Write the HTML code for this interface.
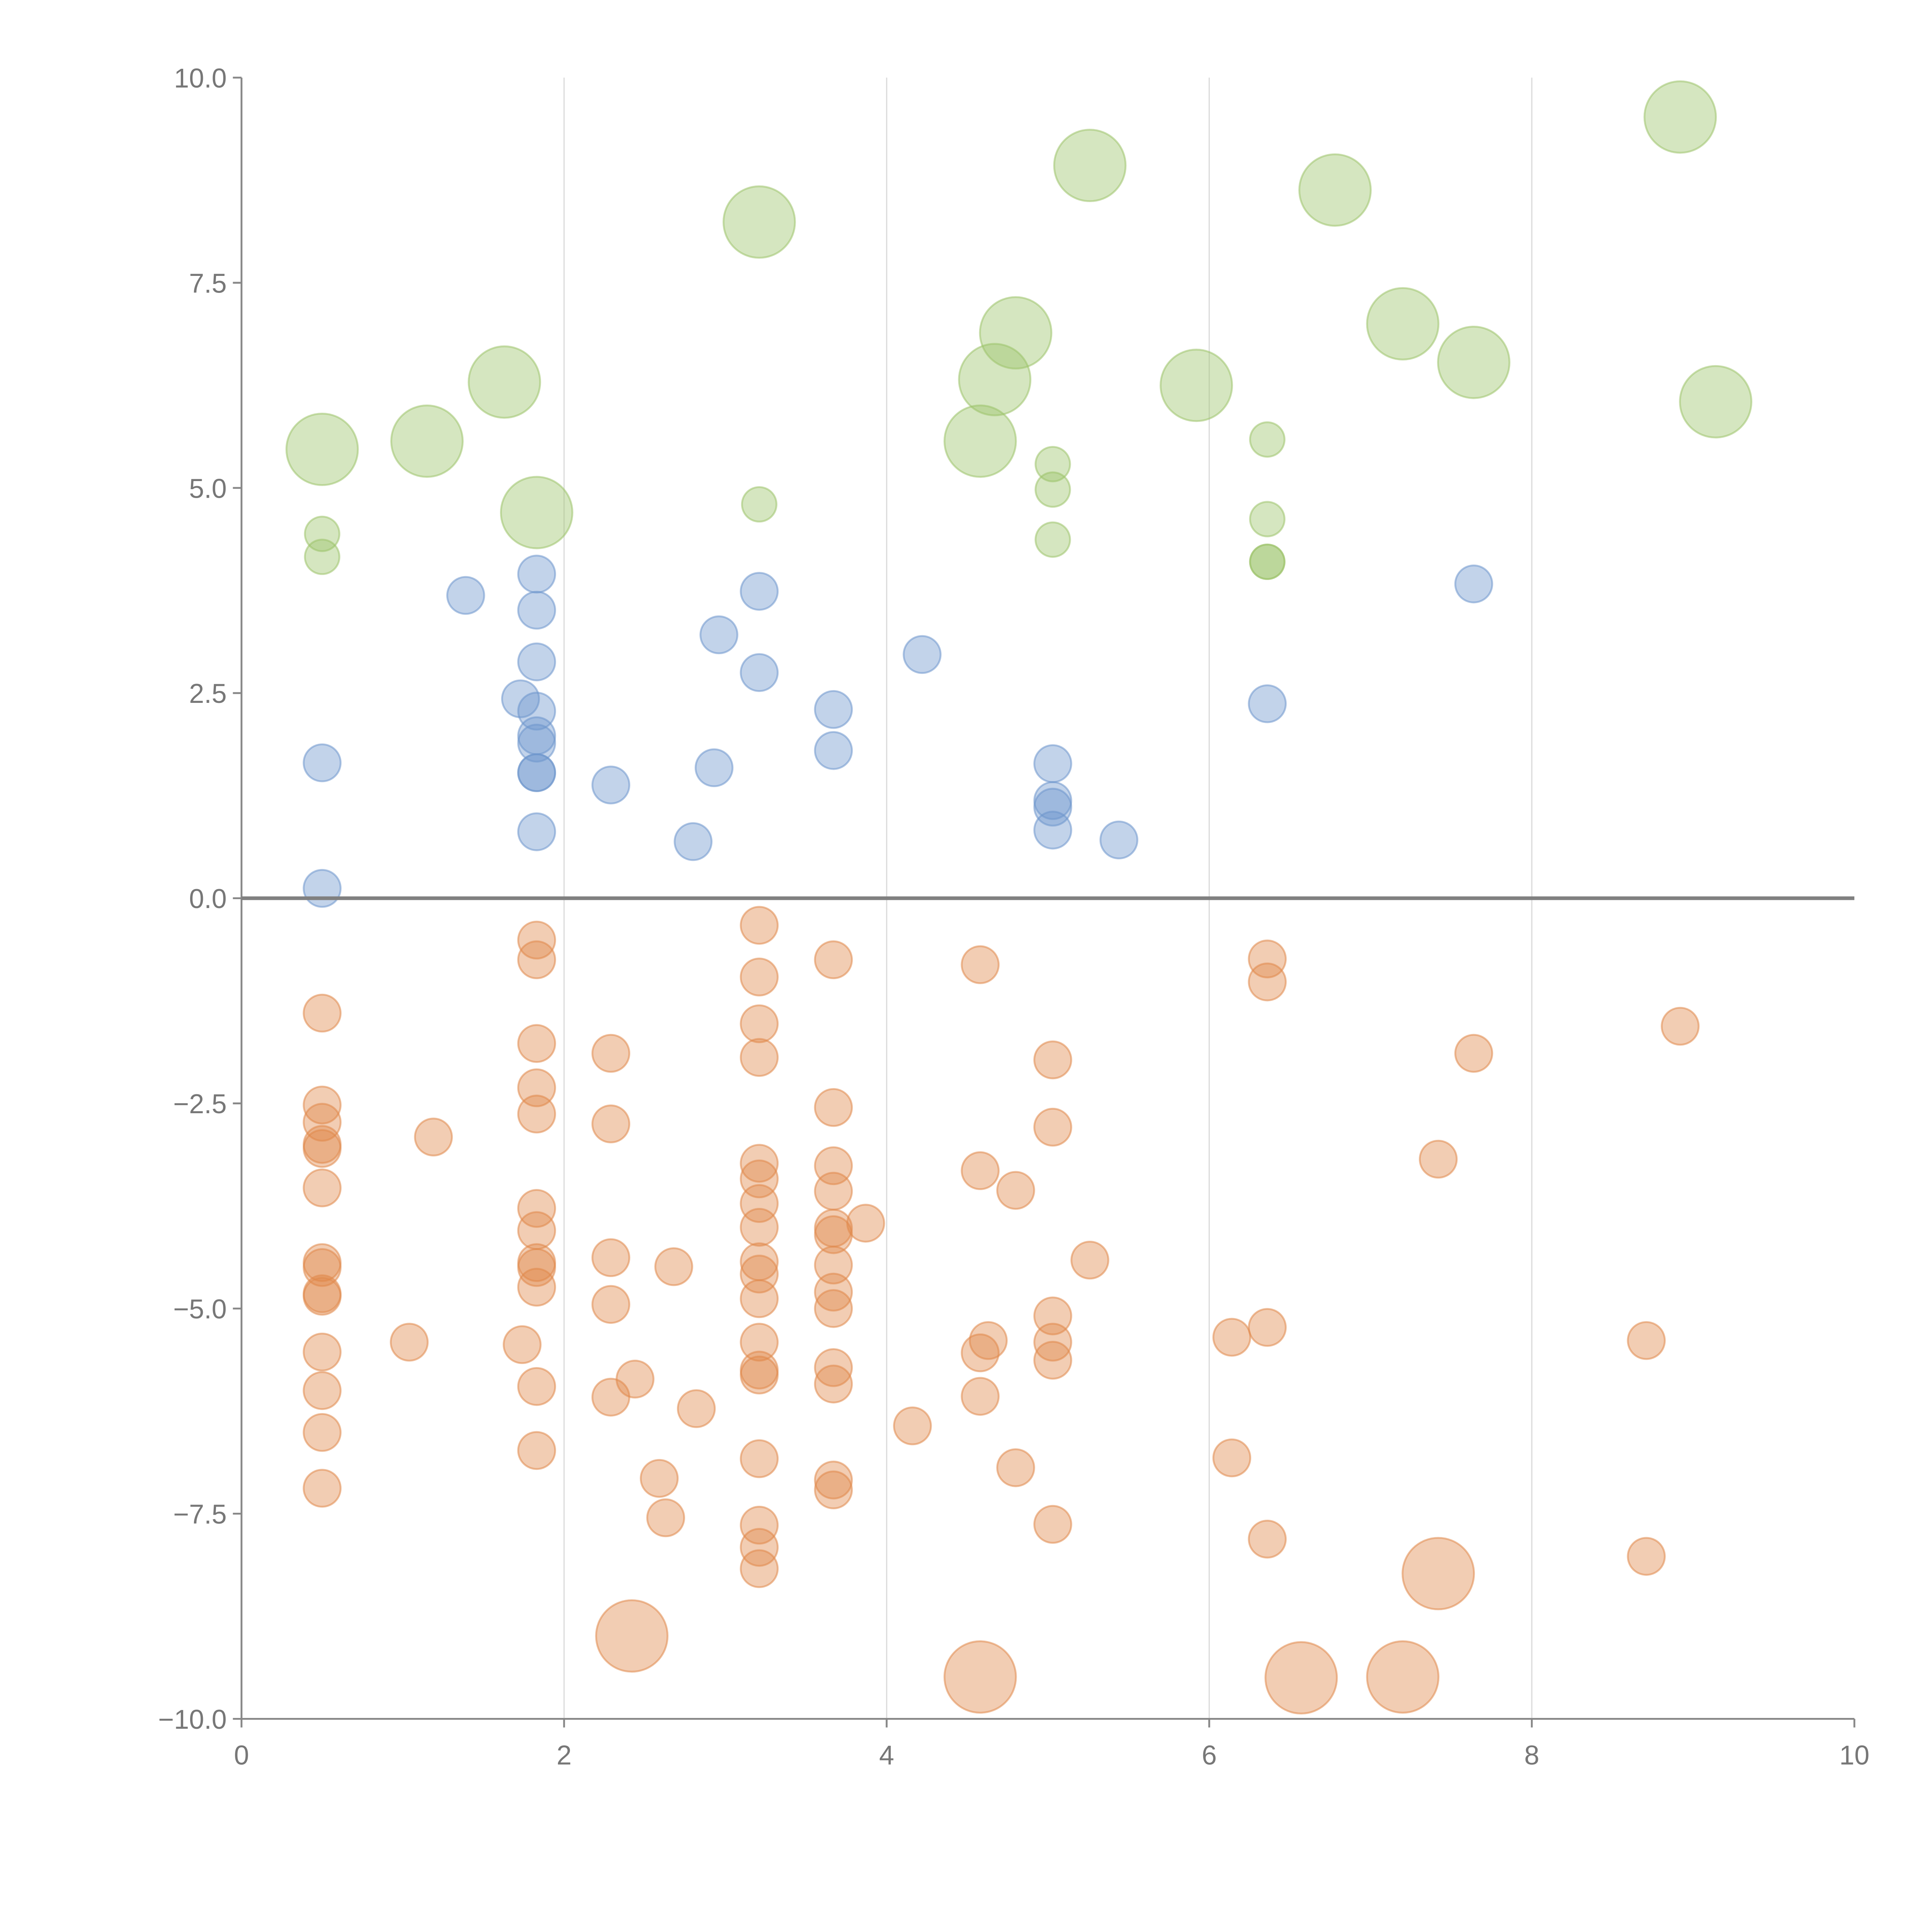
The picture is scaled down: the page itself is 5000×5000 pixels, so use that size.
<!DOCTYPE html>
<html><head><meta charset="utf-8"><style>html,body{margin:0;padding:0;background:#fff}svg{display:block}</style></head>
<body>
<svg id="chart" width="5000" height="5000" viewBox="0 0 1568 1568" xmlns="http://www.w3.org/2000/svg" font-family="Liberation Sans, sans-serif">
<g id="grid"></g>
<g id="marks"></g>
<g id="axes"></g>
</svg>
<script>
const xTicks = [0, 2, 4, 6, 8, 10];
const yTicks = [-10, -7.5, -5, -2.5, 0, 2.5, 5, 7.5, 10];
const yTickLabels = ["\u221210.0", "\u22127.5", "\u22125.0", "\u22122.5", "0.0", "2.5", "5.0", "7.5", "10.0"];
const greenLargeX = [0.5,1.15,1.63,1.83,3.21,4.58,4.67,4.8,5.26,5.92,6.78,7.2,7.64,8.92,9.14];
const greenLargeY = [5.47,5.57,6.29,4.7,8.24,5.57,6.32,6.89,8.93,6.25,8.63,7.0,6.53,9.52,6.05];
const greenSmallX = [0.5,0.5,3.21,5.03,5.03,5.03,6.36,6.36,6.36,6.36];
const greenSmallY = [4.44,4.16,4.8,5.29,4.98,4.37,5.59,4.62,4.1,4.1];
const blueX = [0.5,0.5,1.39,1.83,1.83,1.83,1.73,1.83,1.83,1.83,1.83,1.83,1.83,2.29,2.8,2.93,2.96,3.21,3.21,3.67,3.67,4.22,5.03,5.03,5.03,5.03,5.44,6.36,7.64];
const blueY = [1.65,0.12,3.69,3.95,3.51,2.88,2.43,2.28,1.98,1.89,1.53,1.53,0.81,1.38,0.69,1.59,3.21,3.74,2.75,2.3,1.8,2.97,1.64,1.19,1.11,0.83,0.71,2.37,3.83];
const orangeLargeX = [2.42,4.58,6.57,7.2,7.42];
const orangeLargeY = [-8.99,-9.49,-9.5,-9.49,-8.23];
const orangeX = [0.5,0.5,0.5,0.5,0.5,0.5,0.5,0.5,0.5,0.5,0.5,0.5,0.5,0.5,
 1.04,1.19,1.74,
 1.83,1.83,1.83,1.83,1.83,1.83,1.83,1.83,1.83,1.83,1.83,1.83,
 2.29,2.29,2.29,2.29,2.29,2.44,2.59,2.63,2.68,2.82,
 3.21,3.21,3.21,3.21,3.21,3.21,3.21,3.21,3.21,3.21,3.21,3.21,3.21,3.21,3.21,3.21,3.21,3.21,
 3.67,3.67,3.67,3.67,3.67,3.67,3.67,3.67,3.67,3.67,3.67,3.67,3.67,
 3.87,4.16,4.58,4.58,4.58,4.58,4.63,4.8,4.8,
 5.03,5.03,5.03,5.03,5.03,5.03,5.26,6.14,6.14,6.36,6.36,6.36,6.36,
 7.42,7.64,8.71,8.71,8.92];
const orangeY = [-1.40,-2.52,-2.73,-3.0,-3.05,-3.53,-4.44,-4.50,-4.82,-4.85,-5.53,-6.0,-6.51,-7.19,
 -5.41,-2.91,-5.44,
 -0.51,-0.75,-1.77,-2.31,-2.63,-3.78,-4.05,-4.44,-4.50,-4.74,-5.95,-6.73,
 -1.89,-2.75,-4.38,-4.95,-6.08,-5.86,-7.07,-7.55,-4.49,-6.22,
 -0.33,-0.96,-1.53,-1.94,-3.23,-3.42,-3.72,-4.01,-4.43,-4.58,-4.88,-5.41,-5.75,-5.81,-6.83,-7.64,-7.91,-8.17,
 -0.75,-2.55,-3.26,-3.57,-4.02,-4.10,-4.47,-4.80,-5.0,-5.72,-5.92,-7.09,-7.21,
 -3.96,-6.43,-0.81,-3.32,-5.54,-6.07,-5.39,-3.56,-6.94,
 -1.97,-2.79,-5.09,-5.41,-5.63,-7.63,-4.41,-5.35,-6.82,-0.74,-1.02,-5.23,-7.81,
 -3.18,-1.89,-5.39,-8.02,-1.56];

const X0=196, X1=1505, Y0=1395, Y1=63;
function sx(v){return X0+(v-0)/(10-0)*(X1-X0);}
function sy(v){return Y0-(v+10)/20*(Y0-Y1);}
const NS="http://www.w3.org/2000/svg";
function mk(tag, parent, attrs){const e=document.createElementNS(NS,tag);for(const k in attrs)e.setAttribute(k,attrs[k]);parent.appendChild(e);return e;}
const grid=document.getElementById('grid'), marks=document.getElementById('marks'), axes=document.getElementById('axes');

xTicks.forEach(t=>{ if(t>0&&t<10){
  const l=mk('line',grid,{x1:sx(t),x2:sx(t),y1:Y1,y2:Y0,stroke:'#dcdcdc','stroke-width':1});
  
  
}});

function drawSeries(xs, ys, r, color, name){
  xs.forEach((x,i)=>{
    const c=mk('circle',marks,{cx:sx(x),cy:sy(ys[i]),r:r,fill:color,'fill-opacity':0.42,stroke:color,'stroke-opacity':0.55,'stroke-width':1.5});
    
    
  });
}
drawSeries(greenLargeX, greenLargeY, 29, '#9cc36a', 'green-large-bubble');
drawSeries(greenSmallX, greenSmallY, 14, '#9cc36a', 'green-bubble');
drawSeries(blueX, blueY, 15, '#6d96cc', 'blue-bubble');
drawSeries(orangeLargeX, orangeLargeY, 29, '#e0884a', 'orange-large-bubble');
drawSeries(orangeX, orangeY, 15, '#e0884a', 'orange-bubble');

let a=mk('line',axes,{x1:X0,x2:X0,y1:Y1,y2:Y0,stroke:'#888','stroke-width':1.5});
 
a=mk('line',axes,{x1:X0,x2:X1,y1:Y0,y2:Y0,stroke:'#888','stroke-width':1.5});
 
a=mk('line',axes,{x1:X0,x2:X1,y1:sy(0),y2:sy(0),stroke:'#808080','stroke-width':3});
 

yTicks.forEach((t,i)=>{
  const tk=mk('line',axes,{x1:X0-7,x2:X0,y1:sy(t),y2:sy(t),stroke:'#888','stroke-width':1.5});
  
  
  const tx=mk('text',axes,{x:X0-12,y:sy(t)+8,'text-anchor':'end','font-size':22,fill:'#777'});
  tx.textContent=yTickLabels[i];
  
  
});
xTicks.forEach(t=>{
  const tk=mk('line',axes,{x1:sx(t),x2:sx(t),y1:Y0,y2:Y0+7,stroke:'#888','stroke-width':1.5});
  
  
  const tx=mk('text',axes,{x:sx(t),y:Y0+37,'text-anchor':'middle','font-size':22,fill:'#777'});
  tx.textContent=String(t);
  
  
});
</script>
</body></html>
